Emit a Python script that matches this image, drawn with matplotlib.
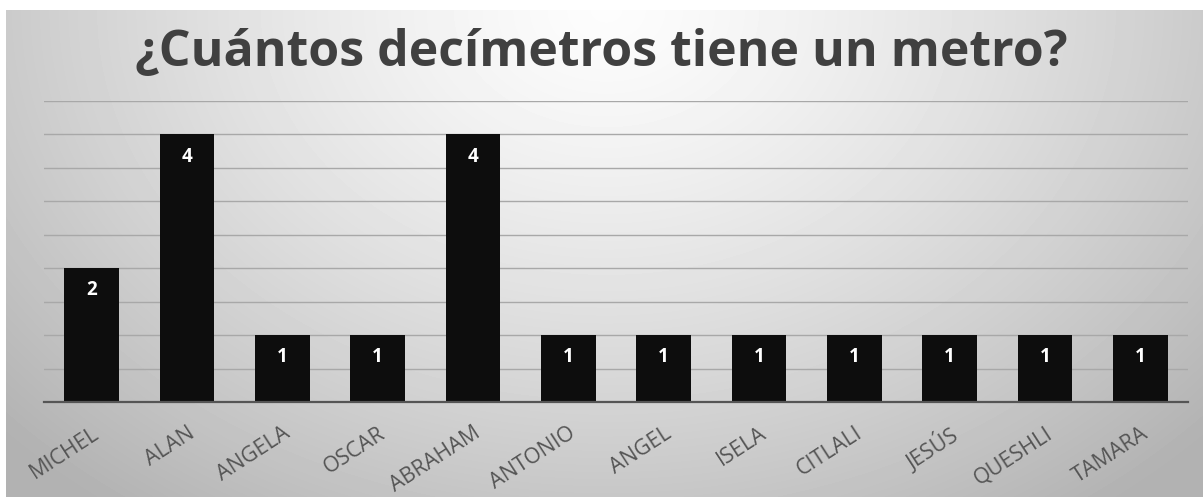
import numpy as np
import matplotlib.pyplot as plt

names = ['MICHEL', 'ALAN', 'ANGELA', 'OSCAR', 'ABRAHAM', 'ANTONIO',
         'ANGEL', 'ISELA', 'CITLALI', 'JESÚS', 'QUESHLI', 'TAMARA']
values = [2, 4, 1, 1, 4, 1, 1, 1, 1, 1, 1, 1]
title = '¿Cuántos decímetros tiene un metro?'

plt.rcParams['font.family'] = ['Open Sans', 'DejaVu Sans']

W, H = 1203, 497
fig = plt.figure(figsize=(W / 100, H / 100), dpi=100)
fig.patch.set_facecolor('white')

# background: radial gray gradient, lighter at top centre
bg = fig.add_axes([6 / W, 0, 1 - 6 / W, 487 / H])
yy, xx = np.mgrid[0:487, 0:1197]
r = np.sqrt(((xx - 600) / 680.0) ** 2 + ((yy - 0) / 520.0) ** 2)
shade = 0.99 - 0.23 * np.clip(r, 0, 1.2) ** 1.3
bg.imshow(shade, cmap='gray', vmin=0, vmax=1, aspect='auto', interpolation='bilinear')
bg.axis('off')
bg.set_zorder(-1)

ax = fig.add_axes([44 / W, (H - 402) / H, (1188 - 44) / W, 301 / H])
ax.patch.set_alpha(0)
x = np.arange(len(names))
bars = ax.bar(x, values, width=0.57, color='#0d0d0d', zorder=3)
ax.set_xlim(-0.5, len(names) - 0.5)
ax.set_ylim(0, 4.5)
ax.set_yticks(np.arange(0, 4.51, 0.5))
ax.yaxis.grid(True, color='#a8a8a8', linewidth=1.0, zorder=0)
ax.tick_params(axis='y', left=False, labelleft=False)
ax.tick_params(axis='x', length=0, pad=15)
for s in ['top', 'right', 'left']:
    ax.spines[s].set_visible(False)
ax.spines['bottom'].set_color('#555555')
ax.spines['bottom'].set_linewidth(1.6)
ax.spines['bottom'].set_zorder(4)

ax.set_xticks(x)
ax.set_xticklabels(names, rotation=33, ha='right', va='top', rotation_mode='anchor',
                   fontsize=15.5, color='#555555')

for b, v in zip(bars, values):
    ax.text(b.get_x() + b.get_width() / 2, v - 0.33, str(v), ha='center', va='center',
            color='white', fontsize=13.5, fontweight='bold', zorder=5)

fig.text(0.5, 1 - 53 / H, title, ha='center', va='center', fontsize=36,
         fontweight='bold', color='#404040')

fig.savefig('out.png', dpi=100)
